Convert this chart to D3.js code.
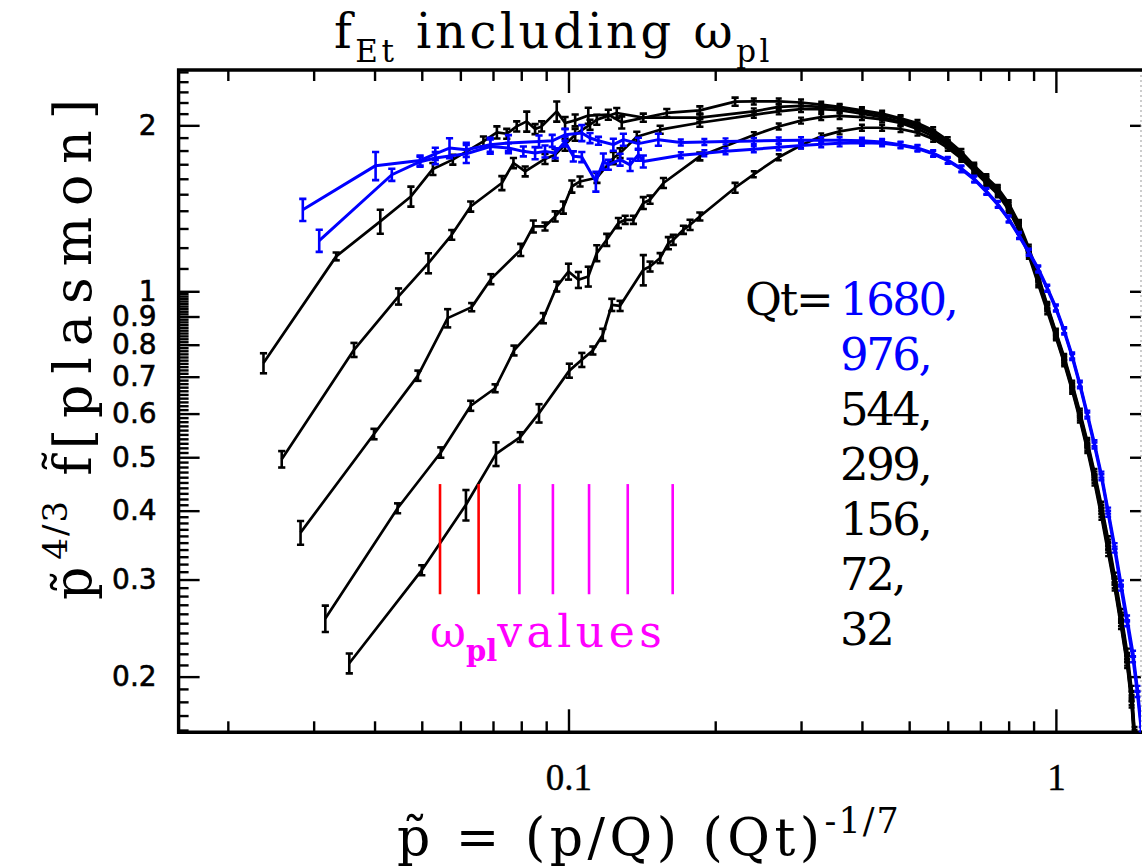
<!DOCTYPE html>
<html>
<head>
<meta charset="utf-8">
<script src="https://cdn.jsdelivr.net/npm/d3@7"></script>
<style>
  body { margin: 0; background: #fff; }
  svg { display: block; }
</style>
</head>
<body>
<svg id="chart" width="1142" height="867"></svg>
<script>
// ---- series: low-momentum part with error bars (p~, value, error) ----
const qtValues = ["1680", "976", "544", "299", "156", "72", "32"];

const p1680 = [0.0285, 0.0402, 0.0496, 0.0533, 0.0570, 0.0617, 0.0691, 0.0753, 0.0870, 0.0926, 0.0984, 0.1065, 0.1107, 0.1152, 0.1236, 0.1296, 0.1391, 0.1529];
const f1680 = [1.406, 1.690, 1.727, 1.776, 1.819, 1.806, 1.845, 1.858, 1.870, 1.875, 1.923, 1.937, 1.897, 1.875, 1.845, 1.884, 1.853, 1.884];
const e1680 = [0.065, 0.099, 0.036, 0.045, 0.076, 0.053, 0.054, 0.062, 0.047, 0.047, 0.048, 0.065, 0.040, 0.031, 0.046, 0.047, 0.046, 0.047];

const p976 = [0.0308, 0.0434, 0.0496, 0.0533, 0.0617, 0.0691, 0.0753, 0.0808, 0.0854, 0.0895, 0.0939, 0.0984, 0.1023, 0.1065, 0.1138, 0.1179, 0.1207, 0.1276, 0.1338, 0.1391, 0.1424];
const f976 = [1.236, 1.627, 1.718, 1.745, 1.776, 1.831, 1.819, 1.794, 1.781, 1.794, 1.781, 1.870, 1.757, 1.752, 1.582, 1.720, 1.696, 1.733, 1.696, 1.769, 1.720];
const e976 = [0.057, 0.041, 0.036, 0.044, 0.067, 0.054, 0.038, 0.037, 0.045, 0.045, 0.037, 0.039, 0.037, 0.037, 0.066, 0.058, 0.035, 0.043, 0.043, 0.044, 0.043];

const p544 = [0.02367, 0.03337, 0.0411, 0.0475, 0.0527, 0.0579, 0.0669, 0.0713, 0.0747, 0.0783, 0.0821, 0.0854, 0.0881, 0.0946, 0.0984, 0.1032, 0.1098, 0.1207, 0.1286, 0.1591, 0.186, 0.2197];
const f544 = [0.741, 1.157, 1.339, 1.486, 1.667, 1.733, 1.870, 1.942, 1.931, 1.991, 2.033, 1.969, 1.991, 2.120, 2.020, 2.042, 2.083, 2.091, 2.025, 2.106, 2.129, 2.208];
const e544 = [0.031, 0.019, 0.067, 0.062, 0.042, 0.036, 0.039, 0.049, 0.040, 0.042, 0.085, 0.041, 0.042, 0.089, 0.051, 0.051, 0.070, 0.044, 0.051, 0.035, 0.036, 0.037];

const p299 = [0.0258, 0.0363, 0.0448, 0.0516, 0.0576, 0.0630, 0.0730, 0.0771, 0.0815, 0.0895, 0.0939, 0.0984, 0.1032, 0.1107, 0.1143, 0.1256, 0.1424, 0.186];
const f299 = [0.496, 0.783, 0.979, 1.125, 1.266, 1.425, 1.572, 1.709, 1.650, 1.738, 1.769, 1.845, 1.923, 2.005, 2.048, 2.106, 2.065, 2.065];
const e299 = [0.017, 0.023, 0.033, 0.047, 0.026, 0.030, 0.046, 0.036, 0.034, 0.036, 0.044, 0.046, 0.048, 0.042, 0.043, 0.044, 0.035, 0.035];

const p156 = [0.0282, 0.0399, 0.0491, 0.0565, 0.0633, 0.0693, 0.0798, 0.0847, 0.0895, 0.0939, 0.0976, 0.1016, 0.1056, 0.1144, 0.1236, 0.1276, 0.1381, 0.1542, 0.186];
const f156 = [0.365, 0.551, 0.703, 0.894, 0.936, 1.052, 1.189, 1.311, 1.311, 1.367, 1.419, 1.549, 1.582, 1.607, 1.745, 1.781, 1.907, 1.964, 2.022];
const e156 = [0.018, 0.012, 0.015, 0.034, 0.016, 0.022, 0.030, 0.033, 0.022, 0.029, 0.036, 0.039, 0.033, 0.034, 0.044, 0.037, 0.040, 0.033, 0.034];

const p72 = [0.0317, 0.0446, 0.0547, 0.0630, 0.0707, 0.0773, 0.0888, 0.0946, 0.1000, 0.1048, 0.1098, 0.1143, 0.1198, 0.1266, 0.1307, 0.1359, 0.1424, 0.1470, 0.1566, 0.186];
const f72 = [0.255, 0.404, 0.510, 0.620, 0.667, 0.781, 0.894, 1.020, 1.086, 1.049, 1.064, 1.173, 1.240, 1.330, 1.348, 1.348, 1.446, 1.466, 1.572, 1.757];
const e72 = [0.014, 0.0084, 0.011, 0.013, 0.011, 0.016, 0.019, 0.021, 0.036, 0.035, 0.044, 0.039, 0.031, 0.028, 0.023, 0.023, 0.036, 0.025, 0.033, 0.029];

const p32 = [0.0355, 0.0500, 0.0616, 0.0710, 0.0796, 0.0870, 0.1004, 0.1065, 0.1122, 0.1176, 0.1227, 0.1276, 0.1424, 0.1470, 0.1542, 0.1603, 0.1641, 0.1721, 0.1776, 0.186, 0.2197];
const f32 = [0.2115, 0.312, 0.410, 0.507, 0.544, 0.601, 0.718, 0.751, 0.781, 0.834, 0.945, 0.941, 1.094, 1.109, 1.149, 1.223, 1.240, 1.293, 1.320, 1.367, 1.541];
const e32 = [0.0088, 0.0065, 0.026, 0.025, 0.011, 0.023, 0.021, 0.022, 0.013, 0.021, 0.024, 0.020, 0.069, 0.023, 0.024, 0.031, 0.026, 0.022, 0.028, 0.023, 0.032];

// ---- densely sampled high-momentum part ----
const tailPBlue = [0.17, 0.19, 0.21, 0.24, 0.27, 0.30, 0.33, 0.36, 0.40, 0.44, 0.48, 0.52, 0.56, 0.60, 0.64, 0.68, 0.72, 0.76, 0.80, 0.84, 0.88, 0.92, 0.96, 1.00, 1.04, 1.08, 1.12, 1.16, 1.20, 1.24, 1.28, 1.32, 1.36, 1.40, 1.44, 1.47, 1.50];
const tail1680 = [1.862, 1.866, 1.870, 1.874, 1.877, 1.879, 1.880, 1.879, 1.875, 1.865, 1.845, 1.820, 1.780, 1.730, 1.670, 1.600, 1.520, 1.440, 1.355, 1.265, 1.180, 1.100, 1.015, 0.935, 0.850, 0.765, 0.680, 0.600, 0.530, 0.465, 0.400, 0.345, 0.295, 0.255, 0.220, 0.190, 0.160];
const tail976 = [1.765, 1.780, 1.795, 1.810, 1.825, 1.838, 1.848, 1.855, 1.860, 1.855, 1.840, 1.815, 1.775, 1.725, 1.665, 1.595, 1.515, 1.435, 1.350, 1.260, 1.175, 1.095, 1.010, 0.930, 0.845, 0.760, 0.675, 0.595, 0.525, 0.460, 0.395, 0.340, 0.290, 0.250, 0.215, 0.186, 0.157];

const tailPBlack = [0.24, 0.27, 0.30, 0.33, 0.36, 0.40, 0.44, 0.48, 0.52, 0.56, 0.60, 0.64, 0.68, 0.72, 0.76, 0.80, 0.84, 0.88, 0.92, 0.96, 1.00, 1.04, 1.08, 1.12, 1.16, 1.20, 1.24, 1.28, 1.32, 1.36, 1.40, 1.43, 1.45];
const tail544 = [2.21, 2.21, 2.20, 2.18, 2.16, 2.13, 2.10, 2.06, 2.02, 1.96, 1.88, 1.79, 1.69, 1.61, 1.54, 1.445, 1.33, 1.20, 1.07, 0.945, 0.845, 0.76, 0.68, 0.605, 0.535, 0.47, 0.41, 0.355, 0.305, 0.262, 0.222, 0.19, 0.16];
const tail299 = [2.12, 2.16, 2.17, 2.16, 2.15, 2.12, 2.09, 2.05, 2.00, 1.94, 1.86, 1.77, 1.68, 1.60, 1.53, 1.435, 1.32, 1.19, 1.06, 0.94, 0.84, 0.755, 0.675, 0.60, 0.53, 0.465, 0.405, 0.35, 0.30, 0.258, 0.218, 0.186, 0.158];
const tail156 = [2.09, 2.12, 2.14, 2.14, 2.13, 2.10, 2.07, 2.03, 1.99, 1.93, 1.85, 1.76, 1.67, 1.59, 1.52, 1.425, 1.31, 1.18, 1.05, 0.935, 0.835, 0.75, 0.67, 0.595, 0.525, 0.46, 0.40, 0.345, 0.297, 0.255, 0.215, 0.183, 0.155];
const tail72 = [1.92, 1.99, 2.04, 2.07, 2.08, 2.07, 2.05, 2.02, 1.97, 1.91, 1.84, 1.75, 1.66, 1.58, 1.51, 1.415, 1.30, 1.17, 1.04, 0.93, 0.83, 0.745, 0.665, 0.59, 0.52, 0.455, 0.395, 0.34, 0.293, 0.25, 0.212, 0.18, 0.152];
const tail32 = [1.63, 1.75, 1.84, 1.91, 1.95, 1.98, 1.98, 1.97, 1.94, 1.89, 1.82, 1.74, 1.65, 1.57, 1.50, 1.405, 1.29, 1.16, 1.03, 0.92, 0.825, 0.74, 0.66, 0.585, 0.515, 0.45, 0.39, 0.335, 0.29, 0.247, 0.21, 0.178, 0.15];

// ---- plasma-frequency markers ----
const omegaPl = [0.0545, 0.0654, 0.0793, 0.0929, 0.1102, 0.1323, 0.1636];
const omegaColors = ["#ff0000", "#ff0000", "#ff00ff", "#ff00ff", "#ff00ff", "#ff00ff", "#ff00ff"];
const omegaRange = [0.282, 0.447];

// ---- axis ticks ----
const yMajorTicks = [0.2, 0.3, 0.4, 0.5, 0.6, 0.7, 0.8, 0.9, 1, 2];
const yTickLabels = ["0.2", "0.3", "0.4", "0.5", "0.6", "0.7", "0.8", "0.9", "1", "2"];
const xMajorTicks = [0.1, 1];
const xTickLabels = ["0.1", "1"];

// ---- layout ----
const X0 = 178.6, X1 = 1141, Y0 = 70, Y1 = 732.3;
const x = d3.scaleLog().domain([0.01585, 1.495]).range([X0, X1]);
const y = d3.scaleLog().domain([0.1585, 2.52]).range([Y1, Y0]);

const svg = d3.select("#chart");
const BLUE = "#0000ff";
const serif = "DejaVu Serif";

svg.append("defs").append("clipPath").attr("id", "plotClip")
  .append("rect").attr("x", X0).attr("y", Y0).attr("width", X1 - X0).attr("height", Y1 - Y0);

// minor ticks, generated from the scale's decades
const yMinorTicks = [];
for (let k = 16; k < 100; k++) if (k % 10 !== 0) yMinorTicks.push(k / 100);
for (let k = 11; k <= 25; k++) if (k % 10 !== 0) yMinorTicks.push(k / 10);
const xMinorTicks = [];
for (let k = 2; k <= 9; k++) { xMinorTicks.push(k / 100); xMinorTicks.push(k / 10); }

function styleAxis(g) {
  g.select(".domain").remove();
  g.selectAll(".tick line").attr("stroke", "#000").attr("stroke-width", 2.4);
}

// left axis: ticks point inward
svg.append("g").attr("transform", `translate(${X0},0)`)
  .call(d3.axisRight(y).tickValues(yMinorTicks).tickSize(10).tickSizeOuter(0).tickFormat(""))
  .call(styleAxis);
svg.append("g").attr("transform", `translate(${X0},0)`)
  .call(d3.axisRight(y).tickValues(yMajorTicks).tickSize(21).tickSizeOuter(0).tickFormat(""))
  .call(styleAxis);
// left tick labels
svg.append("g").attr("transform", `translate(${X0},0)`)
  .call(d3.axisLeft(y).tickValues(yMajorTicks).tickSize(0).tickPadding(22)
    .tickFormat((d, i) => yTickLabels[i]))
  .call(g => g.select(".domain").remove())
  .call(g => g.selectAll("text").attr("font-family", "DejaVu Sans").attr("font-size", 28)
    .attr("fill", "#000").attr("stroke", "#000").attr("stroke-width", 0.6));

// right axis: major ticks only
svg.append("g").attr("transform", `translate(${X1},0)`)
  .call(d3.axisLeft(y).tickValues(yMajorTicks).tickSize(11).tickSizeOuter(0).tickFormat(""))
  .call(styleAxis);

// top axis
svg.append("g").attr("transform", `translate(0,${Y0})`)
  .call(d3.axisBottom(x).tickValues(xMinorTicks).tickSize(11).tickSizeOuter(0).tickFormat(""))
  .call(styleAxis);
svg.append("g").attr("transform", `translate(0,${Y0})`)
  .call(d3.axisBottom(x).tickValues(xMajorTicks).tickSize(23).tickSizeOuter(0).tickFormat(""))
  .call(styleAxis);
// bottom axis
svg.append("g").attr("transform", `translate(0,${Y1})`)
  .call(d3.axisTop(x).tickValues(xMinorTicks).tickSize(11).tickSizeOuter(0).tickFormat(""))
  .call(styleAxis);
svg.append("g").attr("transform", `translate(0,${Y1})`)
  .call(d3.axisTop(x).tickValues(xMajorTicks).tickSize(23).tickSizeOuter(0).tickFormat(""))
  .call(styleAxis);
svg.append("g").attr("transform", `translate(0,${Y1})`)
  .call(d3.axisBottom(x).tickValues(xMajorTicks).tickSize(0).tickPadding(31)
    .tickFormat((d, i) => xTickLabels[i]))
  .call(g => g.select(".domain").remove())
  .call(g => g.selectAll("text").attr("font-family", "Liberation Serif").attr("font-size", 37)
    .attr("fill", "#000").attr("stroke", "#000").attr("stroke-width", 0.4));

// frame
svg.append("line").attr("x1", X1).attr("x2", X1).attr("y1", Y0).attr("y2", Y1)
  .attr("stroke", "#999").attr("stroke-width", 1).attr("stroke-dasharray", "2,3");
svg.append("path")
  .attr("d", `M${X1 + 1},${Y0} H${X0} V${Y1} H${X1 + 1}`)
  .attr("fill", "none").attr("stroke", "#000").attr("stroke-width", 3.4);

// ---- curves ----
const curves = [
  { qt: qtValues[6], p: p32, f: f32, e: e32, tp: tailPBlack, tf: tail32, color: "#000" },
  { qt: qtValues[5], p: p72, f: f72, e: e72, tp: tailPBlack, tf: tail72, color: "#000" },
  { qt: qtValues[4], p: p156, f: f156, e: e156, tp: tailPBlack, tf: tail156, color: "#000" },
  { qt: qtValues[3], p: p299, f: f299, e: e299, tp: tailPBlack, tf: tail299, color: "#000" },
  { qt: qtValues[2], p: p544, f: f544, e: e544, tp: tailPBlack, tf: tail544, color: "#000" },
  { qt: qtValues[1], p: p976, f: f976, e: e976, tp: tailPBlue, tf: tail976, color: BLUE },
  { qt: qtValues[0], p: p1680, f: f1680, e: e1680, tp: tailPBlue, tf: tail1680, color: BLUE }
];

const plot = svg.append("g").attr("clip-path", "url(#plotClip)");
const line = d3.line().x(d => x(d.p)).y(d => y(d.f));

curves.forEach(c => {
  const sparse = c.p.map((p, i) => ({ p, f: c.f[i], e: c.e[i] }));
  const dense = c.tp.map((p, i) => ({ p, f: c.tf[i] }));
  const g = plot.append("g").attr("class", "curve qt" + c.qt);
  const lw = c.color === BLUE ? 3 : 2.7;

  g.append("path").datum(sparse.concat(dense))
    .attr("d", line).attr("fill", "none")
    .attr("stroke", c.color).attr("stroke-width", lw).attr("stroke-linejoin", "round");

  // error bars on the sparse points
  const eb = g.selectAll("g.eb").data(sparse).join("g").attr("class", "eb")
    .attr("stroke", c.color).attr("stroke-width", 2.6);
  eb.append("line")
    .attr("x1", d => x(d.p)).attr("x2", d => x(d.p))
    .attr("y1", d => y(d.f + d.e)).attr("y2", d => y(d.f - d.e));
  eb.append("line")
    .attr("x1", d => x(d.p) - 3.6).attr("x2", d => x(d.p) + 3.6)
    .attr("y1", d => y(d.f + d.e)).attr("y2", d => y(d.f + d.e));
  eb.append("line")
    .attr("x1", d => x(d.p) - 3.6).attr("x2", d => x(d.p) + 3.6)
    .attr("y1", d => y(d.f - d.e)).attr("y2", d => y(d.f - d.e));

  // small markers on the densely sampled points
  g.selectAll("path.mk").data(dense).join("path").attr("class", "mk")
    .attr("d", d => {
      const px = x(d.p), py = y(d.f);
      return `M${px - 3},${py - 3}H${px + 3}M${px},${py - 3}V${py + 3}M${px - 3},${py + 3}H${px + 3}`;
    })
    .attr("stroke", c.color).attr("stroke-width", 2.4).attr("fill", "none");
});

// ---- plasma-frequency lines ----
plot.selectAll("line.wpl").data(omegaPl).join("line").attr("class", "wpl")
  .attr("x1", d => x(d)).attr("x2", d => x(d))
  .attr("y1", y(omegaRange[1])).attr("y2", y(omegaRange[0]))
  .attr("stroke", (d, i) => omegaColors[i]).attr("stroke-width", 2.6);

// ---- texts ----
// title
const title = svg.append("text").attr("x", 334).attr("y", 48)
  .attr("font-family", serif).attr("font-size", 48).attr("letter-spacing", 3.5).attr("fill", "#000");
title.append("tspan").text("f");
title.append("tspan").attr("font-size", 31).attr("dy", 14).text("Et");
title.append("tspan").attr("dy", -14).text(" including ω");
title.append("tspan").attr("font-size", 31).attr("dy", 14).text("pl");

// y axis title
const yt = svg.append("text").attr("transform", "translate(91,600) rotate(-90)")
  .attr("font-family", serif).attr("font-size", 52).attr("letter-spacing", 7).attr("fill", "#000");
yt.append("tspan").text("p\u0303");
yt.append("tspan").attr("font-size", 34).attr("dy", -24).attr("letter-spacing", 2).text("4/3");
yt.append("tspan").attr("dy", 24).text(" f\u0303");
yt.append("tspan").attr("letter-spacing", 11).text("[plasmon]");

// x axis title
const xt = svg.append("text").attr("x", 397).attr("y", 855)
  .attr("font-family", serif).attr("font-size", 52).attr("letter-spacing", 4.5).attr("fill", "#000");
xt.append("tspan").text("p\u0303 = (p/Q) (Qt)");
xt.append("tspan").attr("font-size", 35).attr("dy", -22).attr("letter-spacing", 2).text("-1/7");

// Qt legend
svg.append("text").attr("x", 745).attr("y", 315)
  .attr("font-family", serif).attr("font-size", 45).attr("letter-spacing", -2).attr("fill", "#000").text("Qt=");
svg.selectAll("text.qt").data(qtValues).join("text").attr("class", "qt")
  .attr("x", 840).attr("y", (d, i) => 315 + 55 * i)
  .attr("font-family", serif).attr("font-size", 45).attr("letter-spacing", -2.5)
  .attr("fill", (d, i) => i < 2 ? BLUE : "#000")
  .text((d, i) => i < qtValues.length - 1 ? d + "," : d);

// omega_pl label
const wl = svg.append("text").attr("x", 430).attr("y", 647)
  .attr("font-family", serif).attr("font-size", 44).attr("fill", "#ff00ff");
wl.append("tspan").text("ω");
wl.append("tspan").attr("font-size", 29).attr("font-weight", "bold").attr("dy", 14).text("pl");
wl.append("tspan").attr("dy", -14).attr("letter-spacing", 4.5).text("values");
</script>
</body>
</html>
